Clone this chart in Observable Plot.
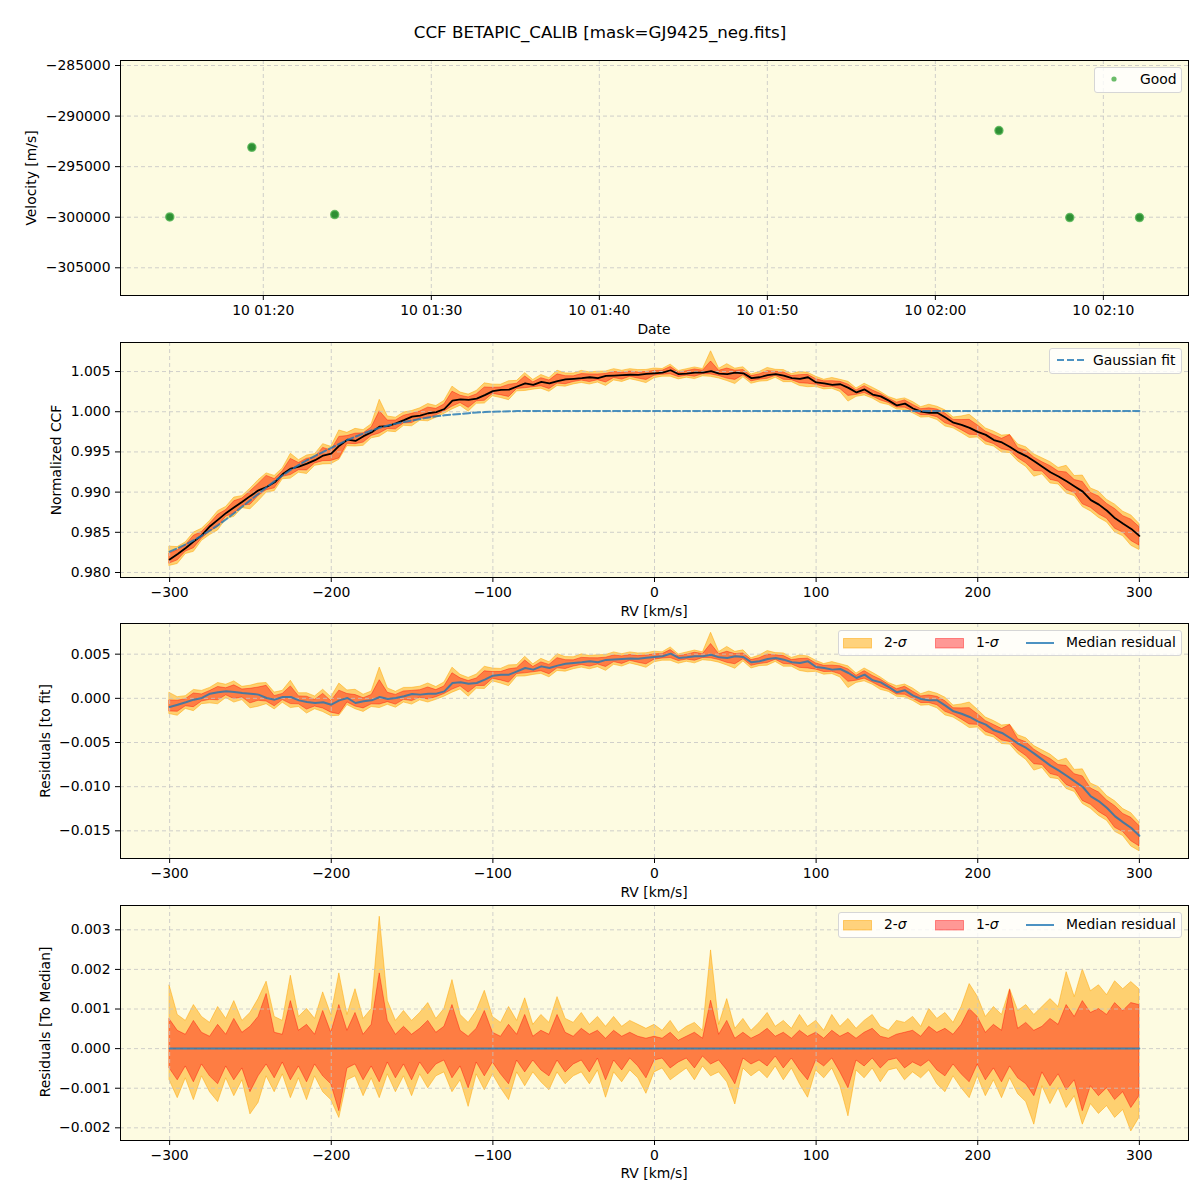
<!DOCTYPE html>
<html><head><meta charset="utf-8">
<script src="https://cdn.jsdelivr.net/npm/d3@7"></script>
<script src="https://cdn.jsdelivr.net/npm/@observablehq/plot@0.6"></script>
<style>
html,body{margin:0;padding:0;background:#fff;overflow:hidden}
#fig{position:relative;width:1200px;height:1200px;font-family:"DejaVu Sans",sans-serif;color:#000;overflow:hidden;background:#fff}
.t{position:absolute;white-space:nowrap;font-size:13.9px;line-height:1}
.legend{position:absolute;background:rgba(255,255,255,0.8);border:1px solid #d6d6d6;border-radius:3px;box-sizing:border-box}
</style></head><body><div id="fig"></div>
<script>
// ---------- Panel 1 data: RV time series ----------
const obsTimes = ["2023-01-10T01:14:26Z","2023-01-10T01:19:19Z","2023-01-10T01:24:15Z","2023-01-10T02:03:47Z","2023-01-10T02:08:00Z","2023-01-10T02:12:09Z"];
const obsVel = [-299967, -293085, -299736, -291436, -300033, -300033];
const dateTicks = ["2023-01-10T01:20:00Z","2023-01-10T01:30:00Z","2023-01-10T01:40:00Z","2023-01-10T01:50:00Z","2023-01-10T02:00:00Z","2023-01-10T02:10:00Z"];
const velTicks = [-305000,-300000,-295000,-290000,-285000];

// ---------- CCF grid (km/s) ----------
const rv = [
-300,-295,-290,-285,-280,-275,-270,-265,-260,-255,
-250,-245,-240,-235,-230,-225,-220,-215,-210,-205,
-200,-195,-190,-185,-180,-175,-170,-165,-160,-155,
-150,-145,-140,-135,-130,-125,-120,-115,-110,-105,
-100,-95,-90,-85,-80,-75,-70,-65,-60,-55,
-50,-45,-40,-35,-30,-25,-20,-15,-10,-5,
0,5,10,15,20,25,30,35,40,45,
50,55,60,65,70,75,80,85,90,95,
100,105,110,115,120,125,130,135,140,145,
150,155,160,165,170,175,180,185,190,195,
200,205,210,215,220,225,230,235,240,245,
250,255,260,265,270,275,280,285,290,295,
300];
// median normalized CCF
const ccfMedian = [
0.98162,0.98231,0.98305,0.98387,0.98464,0.98576,0.98658,0.98741,0.98812,0.98880,
0.98953,0.99022,0.99064,0.99122,0.99225,0.99293,0.99317,0.99355,0.99397,0.99455,
0.99478,0.99577,0.99652,0.99637,0.99696,0.99744,0.99815,0.99820,0.99856,0.99895,
0.99939,0.99952,0.99981,0.99996,1.00034,1.00139,1.00154,1.00148,1.00164,1.00207,
1.00257,1.00271,1.00274,1.00314,1.00353,1.00335,1.00372,1.00353,1.00380,1.00402,
1.00410,1.00418,1.00429,1.00418,1.00445,1.00450,1.00455,1.00460,1.00458,1.00470,
1.00478,1.00486,1.00516,1.00467,1.00474,1.00486,1.00486,1.00504,1.00474,1.00467,
1.00486,1.00478,1.00418,1.00429,1.00455,1.00467,1.00448,1.00418,1.00410,1.00429,
1.00365,1.00353,1.00335,1.00342,1.00297,1.00240,1.00278,1.00214,1.00191,1.00138,
1.00078,1.00101,1.00040,1.00002,0.99987,0.99987,0.99927,0.99863,0.99836,0.99799,
0.99750,0.99712,0.99648,0.99618,0.99561,0.99497,0.99448,0.99384,0.99316,0.99248,
0.99195,0.99134,0.99070,0.99006,0.98900,0.98844,0.98768,0.98674,0.98606,0.98542,
0.98455];
// Gaussian fit curve
const gaussFit = [
0.98260,0.98303,0.98350,0.98402,0.98460,0.98523,0.98590,0.98662,0.98740,0.98820,
0.98900,0.98980,0.99060,0.99137,0.99210,0.99278,0.99340,0.99397,0.99450,0.99500,
0.99550,0.99600,0.99648,0.99690,0.99730,0.99767,0.99800,0.99828,0.99852,0.99872,
0.99890,0.99910,0.99928,0.99943,0.99955,0.99965,0.99973,0.99982,0.99990,0.99996,
1.00000,1.00003,1.00006,1.00008,1.0001,1.0001,1.0001,1.0001,1.0001,1.0001,
1.0001,1.0001,1.0001,1.0001,1.0001,1.0001,1.0001,1.0001,1.0001,1.0001,
1.0001,1.0001,1.0001,1.0001,1.0001,1.0001,1.0001,1.0001,1.0001,1.0001,
1.0001,1.0001,1.0001,1.0001,1.0001,1.0001,1.0001,1.0001,1.0001,1.0001,
1.0001,1.0001,1.0001,1.0001,1.0001,1.0001,1.0001,1.0001,1.0001,1.0001,
1.0001,1.0001,1.0001,1.0001,1.0001,1.0001,1.0001,1.0001,1.0001,1.0001,
1.0001,1.0001,1.0001,1.0001,1.0001,1.0001,1.0001,1.0001,1.0001,1.0001,
1.0001,1.0001,1.0001,1.0001,1.0001,1.0001,1.0001,1.0001,1.0001,1.0001,
1.0001];
// spread around the median (units of 1e-5)
const hi2 = [
159,85,70,110,80,65,105,75,120,70,
90,125,169,80,70,184,80,100,75,142,
85,190,85,150,75,100,333,120,70,95,
70,90,115,75,100,173,85,65,95,146,
80,65,105,70,127,60,85,65,130,75,
65,90,60,80,55,80,55,70,60,50,
60,45,70,40,55,65,45,248,60,125,
50,75,45,65,90,55,70,50,85,55,
70,45,85,55,75,50,70,85,55,45,
70,65,80,55,100,75,90,65,105,163,
131,80,105,85,150,95,110,85,105,125,
105,193,130,200,145,160,135,170,150,168,
150];
const hi1 = [
74,45,35,70,40,30,60,35,75,40,
55,80,138,40,35,120,45,60,35,95,
40,110,45,90,35,60,190,70,35,55,
35,50,70,40,55,110,45,30,50,95,
40,30,60,35,85,30,45,35,85,40,
30,50,35,45,25,45,30,40,30,25,
30,25,40,20,30,40,25,121,35,70,
25,40,25,35,50,30,40,25,45,30,
40,25,45,30,40,25,40,50,30,25,
35,40,45,30,55,40,50,35,60,100,
80,40,60,45,148,50,65,45,55,75,
60,110,80,120,90,100,85,115,95,115,
110];
const lo1 = [
-50,-80,-45,-85,-40,-70,-90,-45,-80,-50,
-110,-70,-40,-75,-35,-80,-45,-85,-40,-70,
-90,-158,-50,-40,-80,-45,-85,-35,-75,-40,
-80,-35,-65,-40,-30,-75,-45,-100,-35,-70,
-35,-65,-90,-30,-60,-30,-55,-70,-30,-60,
-40,-30,-60,-25,-80,-30,-55,-25,-45,-75,
-30,-25,-50,-35,-25,-50,-20,-40,-30,-55,
-90,-25,-40,-30,-45,-20,-50,-25,-55,-80,
-30,-45,-25,-60,-100,-30,-45,-25,-50,-30,
-25,-50,-35,-45,-30,-55,-70,-40,-65,-85,
-40,-80,-50,-85,-45,-75,-90,-120,-60,-95,
-65,-105,-80,-158,-95,-120,-100,-130,-110,-150,
-120];
const lo2 = [
-80,-125,-75,-130,-70,-110,-135,-75,-120,-80,
-166,-137,-70,-110,-65,-125,-75,-130,-70,-110,
-130,-175,-80,-70,-120,-75,-125,-65,-110,-70,
-120,-65,-100,-70,-60,-110,-80,-147,-65,-105,
-65,-100,-130,-60,-95,-60,-85,-105,-60,-90,
-70,-60,-90,-55,-124,-60,-85,-55,-75,-114,
-60,-50,-80,-65,-50,-80,-45,-70,-60,-85,
-141,-50,-70,-55,-75,-45,-80,-50,-90,-124,
-55,-75,-50,-95,-171,-55,-75,-50,-85,-55,
-50,-80,-60,-75,-55,-90,-110,-70,-100,-125,
-70,-120,-80,-125,-75,-115,-135,-192,-95,-140,
-100,-150,-120,-192,-140,-165,-145,-175,-155,-209,
-175];

const rvTicks = [-300,-200,-100,0,100,200,300];
const ccfTicks = [0.980,0.985,0.990,0.995,1.000,1.005];
const resTicks = [-0.015,-0.010,-0.005,0.000,0.005];
const medTicks = [-0.002,-0.001,0.000,0.001,0.002,0.003];

// ---------- build tables ----------
const obs = obsTimes.map((t,i)=>({t:new Date(t), v:obsVel[i]}));
const rows = rv.map((x,i)=>({rv:x, ccf:ccfMedian[i], fit:gaussFit[i], res:ccfMedian[i]-gaussFit[i],
    h2:hi2[i]*1e-5, h1:hi1[i]*1e-5, l1:lo1[i]*1e-5, l2:lo2[i]*1e-5}));

const BG = "#fdfbe1", GRID = "#c4c4c4", FONT = '"DejaVu Sans", sans-serif';
const fig = document.getElementById("fig");
const MT = 10, MB = 45, PH = 235;

function panel(top, cfg){
  const svg = Plot.plot({
    width:1200, height:PH+MT+MB, marginLeft:120, marginRight:12, marginTop:MT, marginBottom:MB,
    style:{fontFamily:FONT, fontSize:"13.9px", color:"#000", background:"transparent", overflow:"visible"},
    x:{type:cfg.xType||"linear", domain:cfg.xDomain},
    y:{domain:cfg.yDomain},
    marks:[
      Plot.frame({fill:BG, stroke:"none"}),
      ...(cfg.below||[]),
      Plot.gridX(cfg.xTicks,{stroke:GRID, strokeOpacity:1, strokeWidth:0.8, strokeDasharray:"4,3"}),
      Plot.gridY(cfg.yTicks,{stroke:GRID, strokeOpacity:1, strokeWidth:0.8, strokeDasharray:"4,3"}),
      ...(cfg.above||[]),
      Plot.frame({stroke:"#000", strokeWidth:1}),
      Plot.axisX(cfg.xTicks,{tickSize:5, tickPadding:5, tickFormat:cfg.xFmt, label:null}),
      Plot.axisY(cfg.yTicks,{tickSize:5, tickPadding:5, tickFormat:cfg.yFmt, label:null})
    ]
  });
  svg.style.position="absolute"; svg.style.left="0px"; svg.style.top=(top-MT)+"px";
  fig.appendChild(svg);
}

function bands(base){
  return [
    Plot.areaY(rows,{x:"rv", y1:d=>base(d)+d.l2, y2:d=>base(d)+d.h2, fill:"#ffa500", fillOpacity:0.5, stroke:"#ffa500", strokeOpacity:0.5, strokeWidth:1}),
    Plot.areaY(rows,{x:"rv", y1:d=>base(d)+d.l1, y2:d=>base(d)+d.h1, fill:"#ff0000", fillOpacity:0.4, stroke:"#ff0000", strokeOpacity:0.4, strokeWidth:1})
  ];
}
const fmtInt = d3.format("d"), fmt3 = d3.format(".3f");
const rvDomain = [-330.4, 330.4];

// Panel 1
panel(60,{
  xType:"utc", xDomain:[new Date("2023-01-10T01:11:30Z"), new Date("2023-01-10T02:15:04Z")],
  yDomain:[-307739,-284505],
  xTicks:dateTicks.map(s=>new Date(s)), xFmt:d3.utcFormat("%d %H:%M"),
  yTicks:velTicks, yFmt:fmtInt,
  above:[Plot.dot(obs,{x:"t", y:"v", r:4, fill:"#23892a", fillOpacity:0.95, stroke:"#54b454", strokeOpacity:0.8, strokeWidth:1.5})]
});
// Panel 2
panel(342,{
  xDomain:rvDomain, yDomain:[0.979377,1.008613],
  xTicks:rvTicks, xFmt:fmtInt, yTicks:ccfTicks, yFmt:fmt3,
  below:bands(d=>d.ccf),
  above:[
    Plot.lineY(rows,{x:"rv", y:"ccf", stroke:"#000", strokeWidth:1.8}),
    Plot.lineY(rows,{x:"rv", y:"fit", stroke:"#1f77b4", strokeOpacity:0.8, strokeWidth:2, strokeDasharray:"7,3"})
  ]
});
// Panel 3
panel(623,{
  xDomain:rvDomain, yDomain:[-0.018132,0.008472],
  xTicks:rvTicks, xFmt:fmtInt, yTicks:resTicks, yFmt:fmt3,
  below:bands(d=>d.res),
  above:[Plot.lineY(rows,{x:"rv", y:"res", stroke:"#1f77b4", strokeOpacity:0.8, strokeWidth:2})]
});
// Panel 4
panel(905,{
  xDomain:rvDomain, yDomain:[-0.00232,0.003614],
  xTicks:rvTicks, xFmt:fmtInt, yTicks:medTicks, yFmt:fmt3,
  below:bands(d=>0),
  above:[Plot.lineY(rows,{x:"rv", y:d=>0, stroke:"#1f77b4", strokeOpacity:0.8, strokeWidth:2})]
});

// ---------- text ----------
function text(html, x, y, {size=13.9, rotate=false, anchor="center"}={}){
  const el = document.createElement("div");
  el.className="t"; el.innerHTML=html; el.style.fontSize=size+"px";
  el.style.left=x+"px"; el.style.top=y+"px";
  el.style.transform = rotate ? "translate(-50%,-50%) rotate(-90deg)" : `translate(${anchor==="center"?"-50%":"0"},-50%)`;
  fig.appendChild(el); return el;
}
text("CCF BETAPIC_CALIB [mask=GJ9425_neg.fits]", 600, 32, {size:16.7});
text("Date", 654, 330);
text("RV [km/s]", 654, 612);
text("RV [km/s]", 654, 893);
text("RV [km/s]", 654, 1174);
text("Velocity [m/s]", 32, 178, {rotate:true});
text("Normalized CCF", 57, 460, {rotate:true});
text("Residuals [to fit]", 46, 741, {rotate:true});
text("Residuals [To Median]", 46, 1022, {rotate:true});

// ---------- legends ----------
function box(x,y,w,h){const b=document.createElement("div");b.className="legend";Object.assign(b.style,{left:x+"px",top:y+"px",width:w+"px",height:h+"px"});fig.appendChild(b);}
function glyph(x,y,w,h,inner){const s=document.createElementNS("http://www.w3.org/2000/svg","svg");s.setAttribute("width",w);s.setAttribute("height",h);Object.assign(s.style,{position:"absolute",left:x+"px",top:y+"px"});s.innerHTML=inner;fig.appendChild(s);}

box(1094,67,88,26);
glyph(1110,75,8,8,'<circle cx="4" cy="4" r="2.6" fill="#2ca02c" fill-opacity="0.7"/>');
text("Good",1140,80,{anchor:"left"});

box(1049,348,133,26);
glyph(1057,356,30,8,'<line x1="0" y1="4" x2="28" y2="4" stroke="#1f77b4" stroke-opacity="0.8" stroke-width="2" stroke-dasharray="7,3"/>');
text("Gaussian fit",1093,361,{anchor:"left"});

function sigmaLegend(y){
  box(838,y,344,26);
  const c=y+13;
  glyph(843,c-5,30,11,'<rect x="0.5" y="0.5" width="28" height="9.5" fill="#ffa500" fill-opacity="0.5" stroke="#ffa500" stroke-opacity="0.5"/>');
  text("2-<i>σ</i>",884,c,{anchor:"left"});
  glyph(935,c-5,30,11,'<rect x="0.5" y="0.5" width="28" height="9.5" fill="#ff0000" fill-opacity="0.4" stroke="#ff0000" stroke-opacity="0.4"/>');
  text("1-<i>σ</i>",976,c,{anchor:"left"});
  glyph(1026,c-4,30,8,'<line x1="0" y1="4" x2="28" y2="4" stroke="#1f77b4" stroke-opacity="0.8" stroke-width="2"/>');
  text("Median residual",1066,c,{anchor:"left"});
}
sigmaLegend(630);
sigmaLegend(912);
</script></body></html>
